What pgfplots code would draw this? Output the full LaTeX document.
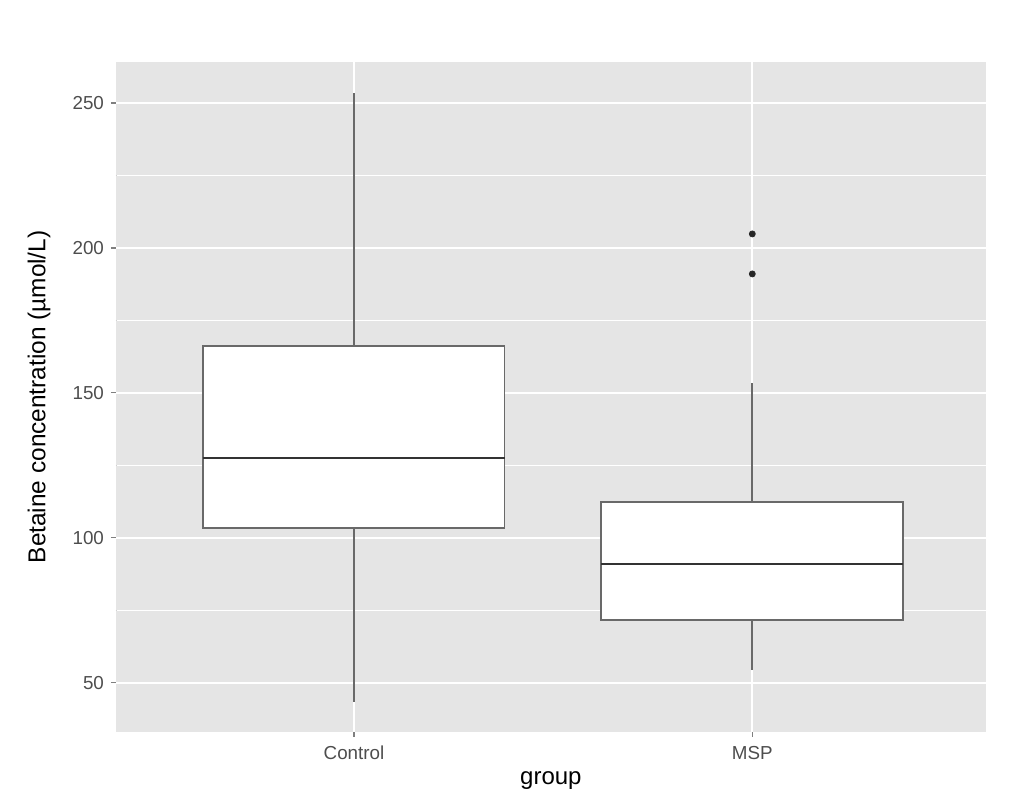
\documentclass[border=0pt]{standalone}
\usepackage{pgfplots}
\pgfplotsset{compat=1.18}
\usepackage{fontspec}
\setmainfont{Liberation Sans}
\definecolor{panel}{RGB}{229,229,229}
\definecolor{ticktxt}{RGB}{77,77,77}
\definecolor{tickcol}{RGB}{127,127,127}
\definecolor{boxcol}{RGB}{105,105,105}
\definecolor{medcol}{RGB}{51,51,51}
\begin{document}
\begin{tikzpicture}
\begin{axis}[
  at={(0,0)}, anchor=south west,
  scale only axis, width=434.85pt, height=334.85pt,
  xmin=0.4025, xmax=2.586, ymin=33.1, ymax=264.1,
  axis background/.style={fill=panel},
  axis line style={draw=none},
  tick pos=left,
  xtick={1,2}, xticklabels={Control,MSP},
  ytick={50,100,150,200,250},
  minor ytick={75,125,175,225},
  xmajorgrids, ymajorgrids, yminorgrids,
  major grid style={white, line width=1pt},
  minor grid style={white, line width=0.6pt},
  tick align=outside, major tick length=2.5pt, minor tick length=0.01pt,
  tick style={tickcol, line width=0.7pt},
  ticklabel style={font=\fontsize{9.4pt}{11pt}\selectfont, text=ticktxt},
  xticklabel style={text height=7pt, text depth=0pt, yshift=-1pt},
  /pgf/number format/assume math mode=true,
  xlabel={group}, ylabel={Betaine concentration (µmol/L)},
  every axis x label/.style={at={(axis description cs:0.5,0)}, yshift=-26.6pt, anchor=base, font=\fontsize{12pt}{14pt}\selectfont, text=black},
  every axis y label/.style={at={(axis description cs:0,0.5)}, xshift=-38.5pt, rotate=90, anchor=center, font=\fontsize{12.2pt}{14pt}\selectfont, text=black},
  clip=false,
]
% Control
\addplot[draw=boxcol, line width=0.9pt] coordinates {(1,166.2) (1,253.4)};
\addplot[draw=boxcol, line width=0.9pt] coordinates {(1,103.4) (1,43.4)};
\addplot[draw=boxcol, fill=white, line width=0.9pt] coordinates {(0.62,103.4) (1.378,103.4) (1.378,166.2) (0.62,166.2) (0.62,103.4)} -- cycle;
\addplot[draw=medcol, line width=1.2pt] coordinates {(0.62,127.6) (1.378,127.6)};
% MSP
\addplot[draw=boxcol, line width=0.9pt] coordinates {(2,112.4) (2,153.4)};
\addplot[draw=boxcol, line width=0.9pt] coordinates {(2,71.7) (2,54.5)};
\addplot[draw=boxcol, fill=white, line width=0.9pt] coordinates {(1.62,71.7) (2.378,71.7) (2.378,112.4) (1.62,112.4) (1.62,71.7)} -- cycle;
\addplot[draw=medcol, line width=1.2pt] coordinates {(1.62,91.0) (2.378,91.0)};
\addplot[only marks, mark=*, mark size=1.5pt, mark options={draw=black!85, fill=black!85}] coordinates {(2,204.8) (2,191.0)};
\end{axis}
\path[use as bounding box] (-58pt,-34.15pt) rectangle (455pt,365.85pt);
\end{tikzpicture}
\end{document}
